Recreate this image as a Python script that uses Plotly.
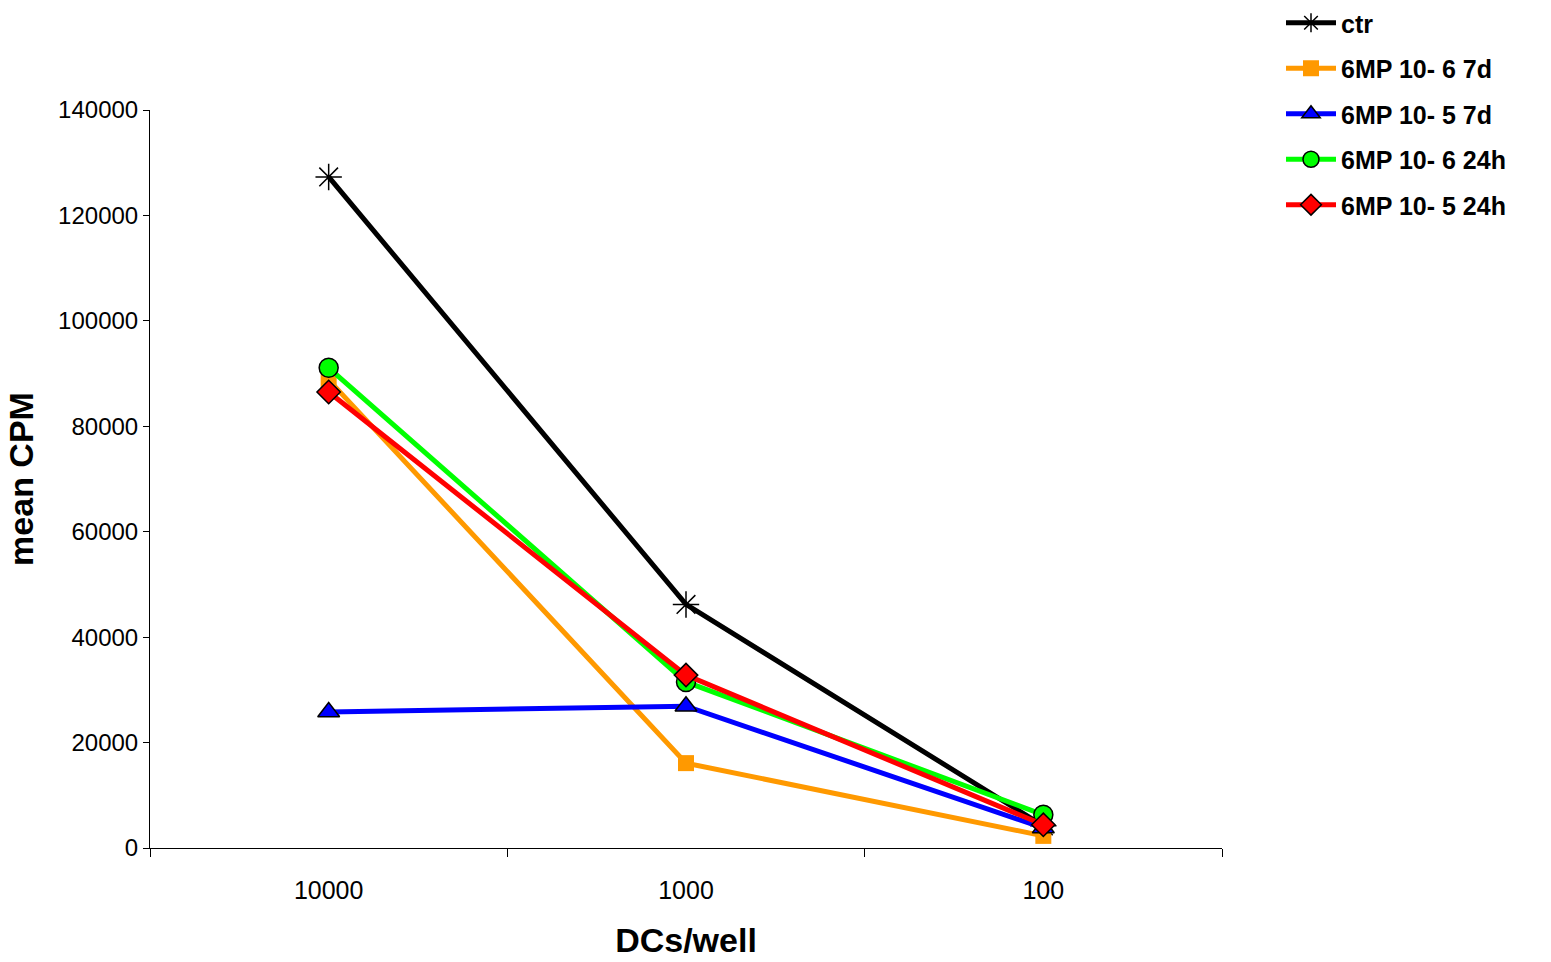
import plotly.graph_objects as go

categories = ["10000", "1000", "100"]
ctr = [127300, 46200, 4200]
mp_106_7d = [88800, 16100, 2300]
mp_105_7d = [25800, 26900, 3800]
mp_106_24h = [91100, 31500, 6300]
mp_105_24h = [86500, 32800, 4400]
y_ticks = [0, 20000, 40000, 60000, 80000, 100000, 120000, 140000]

series = [
    ("ctr", ctr, "#000000", "asterisk-open", None, 22),
    ("6MP 10- 6 7d", mp_106_7d, "#FF9900", "square", None, 16),
    ("6MP 10- 5 7d", mp_105_7d, "#0000FF", "triangle-up", "#000000", 19),
    ("6MP 10- 6 24h", mp_106_24h, "#00FF00", "circle", "#000000", 19),
    ("6MP 10- 5 24h", mp_105_24h, "#FF0000", "diamond", "#000000", 18),
]

fig = go.Figure()
for i, (name, vals, color, sym, outline, size) in enumerate(series):
    marker = dict(symbol=sym, size=size, color=color)
    if sym == "asterisk-open":
        marker["line"] = dict(color=color, width=1.5)
    elif outline:
        marker["line"] = dict(color=outline, width=1.5)
    else:
        marker["line"] = dict(width=0)
    fig.add_trace(go.Scatter(
        x=categories, y=vals, name="<b>" + name + "</b>", mode="lines+markers",
        legendgroup="g%d" % i,
        line=dict(color=color, width=5), marker=marker,
    ))

fig.update_layout(
    width=1551, height=962,
    paper_bgcolor="white", plot_bgcolor="white",
    margin=dict(l=150, r=329, t=110, b=114, autoexpand=False),
    font=dict(family="Liberation Sans, Arial", color="black"),
    showlegend=True,
    legend=dict(
        xref="container", yref="container",
        x=1281 / 1551, xanchor="left", y=1.0, yanchor="top",
        font=dict(size=25, family="Liberation Sans, Arial"),
        tracegroupgap=10, itemwidth=50,
        bgcolor="rgba(0,0,0,0)",
    ),
    xaxis=dict(
        type="category", range=[-0.5, 2.5], tickson="boundaries",
        showline=True, linecolor="black", linewidth=1,
        ticks="outside", ticklen=8, tickcolor="black",
        showgrid=False, zeroline=False,
        tickfont=dict(size=25), ticklabelstandoff=20,
        title=dict(text="<b>DCs/well</b>", font=dict(size=34), standoff=25),
    ),
    yaxis=dict(
        range=[0, 140000], tickvals=y_ticks,
        showline=True, linecolor="black", linewidth=1,
        ticks="outside", ticklen=6, tickcolor="black",
        showgrid=False, zeroline=False,
        tickfont=dict(size=24), tickformat="d",
        title=dict(text="<b>mean CPM</b>", font=dict(size=34), standoff=14),
    ),
)

fig.write_html("out.html")
